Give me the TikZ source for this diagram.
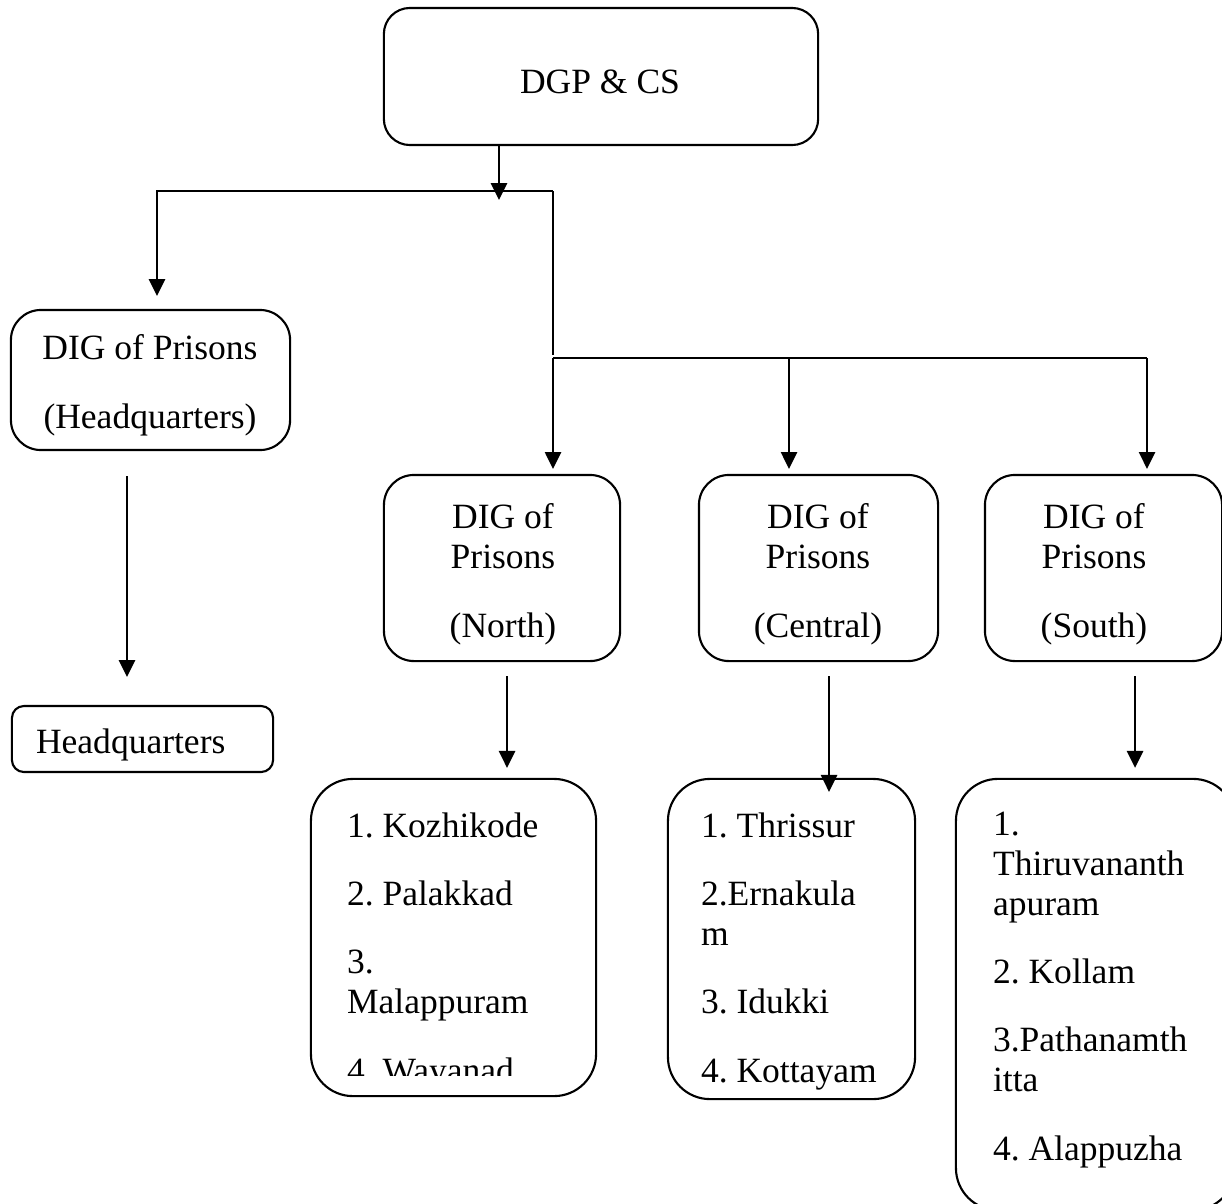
\documentclass[tikz,border=0pt]{standalone}
\usepackage{fontspec}
\setmainfont{Liberation Serif}
\usetikzlibrary{arrows.meta}

\begin{document}
\frenchspacing
\begin{tikzpicture}
  [x=0.01cm, y=-0.01cm, line width=0.6pt,
   box/.style={draw=black, rectangle, rounded corners=#1, inner sep=0pt},
   box/.default=0.3cm,
   txt/.style={font=\fontsize{10.1}{11.4}\selectfont, inner sep=0pt, anchor=base},
   lst/.style={txt, align=left, anchor=base west},
   arr/.style={-{Triangle[length=4.8pt,width=4.6pt]}}]
\useasboundingbox (0,0) rectangle (1222,1203); % keep page size
\clip (0,0) rectangle (1222,1203);
% boxes
\node at (601,76.5) (dgp) [box=0.26cm, minimum width=4.34cm, minimum height=1.37cm] {};
\node at (150.5,380) (hqdig) [box, minimum width=2.79cm, minimum height=1.4cm] {};
\node at (142.5,739) (hq) [box=0.12cm, minimum width=2.61cm, minimum height=0.66cm] {};
\node at (502,568) (north) [box, minimum width=2.36cm, minimum height=1.86cm] {};
\node at (818.5,568) (central) [box, minimum width=2.39cm, minimum height=1.86cm] {};
\node at (1103.5,568) (south) [box, minimum width=2.37cm, minimum height=1.86cm] {};
\node at (453.5,937.5) (nlist) [box=0.42cm, minimum width=2.85cm, minimum height=3.17cm] {};
\node at (791.5,939) (clist) [box=0.42cm, minimum width=2.47cm, minimum height=3.2cm] {};
\node at (1095.5,994.5) (slist) [box=0.42cm, minimum width=2.79cm, minimum height=4.31cm] {};
% texts (multi-line ones sit on their last baseline)
\node at (600,93) (dgp-t) [txt] {DGP \& CS};
\node at (150,428) (hqdig-t) [txt, align=center] {DIG of Prisons\\[8pt](Headquarters)};
\node at (35,753) (hq-t) [txt, anchor=base west] {Headquarters};
\node at (503,637) (north-t) [txt, align=center] {DIG of\\Prisons\\[8pt](North)};
\node at (818,637) (central-t) [txt, align=center] {DIG of\\Prisons\\[8pt](Central)};
\node at (1094,637) (south-t) [txt, align=center] {DIG of\\Prisons\\[8pt](South)};
\begin{scope}
  \clip (300,770) rectangle (600,1075);
  \node at (346,1082) (nlist-t) [lst] {1. Kozhikode\\[8pt]2. Palakkad\\[8pt]3.\\Malappuram\\[8pt]4. Wayanad};
\end{scope}
\node at (700,1082) (clist-t) [lst] {1. Thrissur\\[8pt]2.Ernakula\\m\\[8pt]3. Idukki\\[8pt]4. Kottayam};
\node at (992,1160) (slist-t) [lst] {1.\\Thiruvananth\\apuram\\[8pt]2. Kollam\\[8pt]3.Pathanamth\\itta\\[8pt]4. Alappuzha};
% connectors
\coordinate (jtop) at (499,200);
\coordinate (jl) at (157,191);
\coordinate (jr) at (553,191);
\coordinate (jbus) at (553,355);
\coordinate (bn) at (553,358);
\coordinate (bc) at (789,358);
\coordinate (bs) at (1147,358);
\coordinate (xh) at (127,0);
\coordinate (xn) at (507,0);
\coordinate (xc) at (829,0);
\coordinate (xs) at (1135,0);
\draw [arr] (dgp.south -| jtop) -- (jtop);
\draw [arr, shorten >=0.13cm] (jr) -- (jl) -- (hqdig.north -| jl);
\draw (jr) -- (jbus);
\draw (bn) -- (bs);
\draw [arr, shorten >=0.05cm] (bn) -- (north.north -| bn);
\draw [arr, shorten >=0.05cm] (bc) -- (central.north -| bc);
\draw [arr, shorten >=0.05cm] (bs) -- (south.north -| bs);
%
\draw [arr, shorten <=0.25cm, shorten >=0.28cm] (hqdig.south -| xh) -- (hq.north -| xh);
\draw [arr, shorten <=0.14cm, shorten >=0.1cm] (north.south -| xn) -- (nlist.north -| xn);
\draw [arr, shorten <=0.14cm, shorten >=-0.14cm] (central.south -| xc) -- (clist.north -| xc);
\draw [arr, shorten <=0.14cm, shorten >=0.1cm] (south.south -| xs) -- (slist.north -| xs);
\end{tikzpicture}
\end{document}
